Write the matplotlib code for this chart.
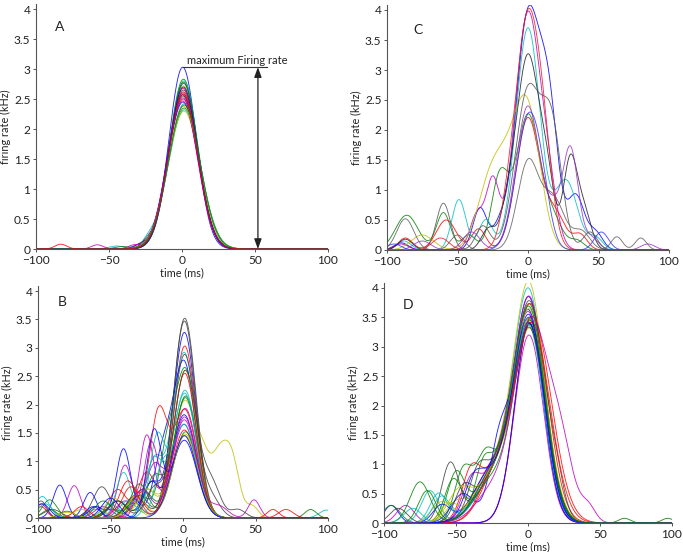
import numpy as np
import matplotlib
matplotlib.use("Agg")
import matplotlib.pyplot as plt

# ---------------- data ----------------
time_ticks = [-100, -50, 0, 50, 100]
rate_ticks = [0, 0.5, 1, 1.5, 2, 2.5, 3, 3.5, 4]
rate_tick_labels = ['0', '0.5', '1', '1.5', '2', '2.5', '3', '3.5', '4']
panel_letters = ['A', 'B', 'C', 'D']
x_label = 'time (ms)'
y_label = 'firing rate (kHz)'
annotation_text = 'maximum Firing rate'
A_arrow_time = 52

# Panel A: main peak of every trial (center ms, height kHz, width ms)
A_peak_centers = [0.5, 1.0, 0.8, 1.2, 0.6, 0.9, 1.1, 0.4, 1.5, 0.7, 1.6, 0.5,
                  1.3, 0.9, 0.6, 1.0, 0.8, 1.4, 0.3, 1.2, 0.7, 0.9, 1.5, 0.8]
A_peak_heights = [3.03, 2.83, 2.68, 2.80, 2.60, 2.72, 2.76, 2.57, 2.35, 2.50, 2.32, 2.52,
                  2.30, 2.65, 2.45, 2.78, 2.62, 2.42, 2.47, 2.38, 2.55, 2.70, 2.40, 2.58]
A_peak_widths = [9.4, 9.8, 10.0, 9.8, 10.2, 9.9, 9.8, 10.3, 11.0, 10.2, 11.0, 10.2,
                 11.0, 10.0, 10.5, 9.8, 10.1, 10.6, 10.4, 10.8, 10.2, 9.9, 10.8, 10.1]
# secondary bumps: (trial, center, height, width)
A_extra_bumps = [(23, -83, 0.08, 4), (4, -58, 0.07, 4), (3, -45, 0.05, 5), (8, -41, 0.04, 5),
                 (11, -33, 0.06, 4), (7, -30, 0.05, 4), (2, -28, 0.07, 4), (13, -24, 0.09, 4),
                 (10, -23, 0.09, 4)]

# Panel B
B_peak_centers = [1.0, 1.5, 1.2, 0.8, 1.5, 1.0, 1.2, 0.6, 1.8, 1.0, 1.4, 0.9, 1.6, 1.0, 0.8,
                  1.7, 1.3, 1.1, 0.7, 1.5, 1.1, 0.9, 1.8, 1.2, 0.8, 1.0, 1.4, 1.6, 0.9]
B_peak_heights = [3.27, 2.63, 3.03, 2.92, 1.93, 2.05, 3.52, 2.75, 2.15, 1.55, 2.25, 1.73, 1.48,
                  3.47, 1.82, 2.12, 1.90, 2.20, 1.65, 2.60, 2.88, 1.37, 1.52, 2.55, 1.65, 1.78,
                  1.45, 2.60, 1.45]
B_peak_widths = [7.8, 8.0, 7.8, 7.9, 8.3, 8.0, 7.9, 8.0, 8.2, 8.5, 8.2, 8.4, 8.6, 7.8, 8.4,
                 8.2, 8.2, 8.2, 8.4, 8.0, 7.9, 8.6, 8.5, 8.0, 8.4, 8.3, 8.6, 8.0, 8.5]
B_extra_bumps = [(0, -85, 0.58, 4.5), (0, -45, 0.30, 6), (0, -22, 0.60, 6),
                 (1, -92, 0.32, 5), (1, -30, 0.40, 7), (1, -12, 0.80, 5),
                 (2, -45, 0.50, 6), (2, -25, 0.80, 6),
                 (3, -97, 0.38, 5), (3, -60, 0.15, 6), (3, -20, 1.00, 6),
                 (4, -75, 0.57, 4.5), (4, -40, 0.93, 5), (4, -20, 0.90, 6),
                 (5, -60, 0.20, 6), (5, -25, 0.50, 7), (5, 14, 0.70, 5), (5, 24, 0.85, 5),
                 (5, 33, 1.10, 5.5), (5, 48, 0.20, 4),
                 (6, -56, 0.55, 6), (6, -30, 0.30, 6),
                 (7, -64, 0.45, 4.5), (7, -35, 0.35, 5), (7, -15, 0.90, 6),
                 (8, -50, 0.15, 6), (8, -28, 0.50, 7), (8, 88, 0.15, 4),
                 (9, -98, 0.20, 4), (9, -33, 0.40, 6), (9, 62, 0.15, 4),
                 (10, -41, 0.80, 5), (10, -20, 1.00, 6),
                 (11, -98, 0.25, 4), (11, -25, 1.45, 5), (11, -55, 0.20, 6),
                 (12, -70, 0.15, 6), (12, -32, 0.40, 6),
                 (13, -30, 0.40, 6), (13, -90, 0.15, 6),
                 (14, -41, 1.22, 5), (14, -60, 0.20, 5), (14, -22, 0.60, 5),
                 (15, -45, 0.30, 7), (15, -20, 0.70, 6), (15, -80, 0.12, 5),
                 (16, -38, 0.65, 6), (16, -17, 1.80, 6),
                 (17, -18, 1.35, 5), (17, -50, 0.25, 6), (17, -95, 0.25, 5),
                 (18, -22, 1.30, 5), (18, -40, 0.30, 6),
                 (19, -48, 0.35, 6), (19, -25, 0.50, 6),
                 (20, -35, 0.30, 6), (20, -98, 0.30, 4), (20, 20, 0.30, 6),
                 (21, -20, 1.50, 5), (21, -62, 0.20, 5),
                 (22, -55, 0.30, 6), (22, -30, 0.60, 6), (22, -92, 0.15, 5),
                 (23, -36, 0.55, 6), (23, 71, 0.15, 5), (23, -70, 0.20, 5),
                 (24, -38, 0.30, 6), (24, 99, 0.14, 5), (24, -15, 0.70, 5),
                 (25, -28, 0.50, 6), (25, 49, 0.32, 4), (25, 25, 0.20, 6),
                 (26, -35, 0.30, 5), (26, -80, 0.10, 6),
                 (27, 20, 0.55, 6), (27, 38, 0.15, 5), (27, -45, 0.30, 6), (27, -20, 0.50, 6),
                 (28, -50, 0.35, 6), (28, -97, 0.25, 5)]

# Panel C
C_peak_centers = [0, 0, 0, 0, 0, 0, 0, 0, 0, 0, 0, 0]
C_peak_heights = [3.90, 2.25, 2.20, 3.70, 3.95, 2.15, 3.25, 2.40, 2.65, 1.45, 3.90, 2.15]
C_peak_widths = [8.5, 8.5, 8.5, 8.5, 9.0, 9.0, 8.5, 8.5, 9.0, 7.5, 9.0, 8.5]
C_extra_bumps = [(0, 15, 2.10, 6.5), (0, 34, 0.90, 6), (0, 48, 0.28, 5), (0, -34, 0.70, 5),
                 (0, -20, 0.35, 5), (0, -90, 0.12, 5),
                 (1, -20, 1.20, 6), (1, -60, 0.62, 5), (1, -86, 0.58, 8), (1, -42, 0.25, 5),
                 (1, 18, 0.45, 7), (1, 35, 0.15, 5),
                 (2, -58, 0.50, 7), (2, -35, 0.35, 5), (2, 20, 0.55, 7), (2, 37, 0.25, 5),
                 (2, -87, 0.20, 5),
                 (3, 27, 1.15, 8), (3, -49, 0.84, 5), (3, -30, 0.50, 5), (3, -88, 0.15, 5),
                 (3, 48, 0.20, 5),
                 (4, 15, 0.70, 6), (4, -25, 1.10, 4.5), (4, -36, 0.60, 5), (4, -90, 0.10, 5),
                 (5, -15, 1.10, 10), (5, -28, 0.85, 9), (5, -75, 0.25, 8),
                 (6, 14, 0.80, 5), (6, 30, 1.50, 5), (6, 40, 0.60, 5), (6, -28, 0.35, 5),
                 (6, -15, 0.40, 5), (6, -87, 0.18, 5),
                 (7, 30, 1.70, 5.5), (7, 18, 0.50, 5), (7, -40, 0.30, 6), (7, -75, 0.15, 6),
                 (7, 45, 0.20, 5), (7, 85, 0.10, 5),
                 (8, 17, 1.90, 7), (8, 44, 0.30, 5), (8, -60, 0.78, 5), (8, -32, 0.40, 5),
                 (9, 18, 0.85, 8), (9, 38, 0.30, 6), (9, 63, 0.22, 4), (9, 80, 0.20, 4),
                 (9, -87, 0.52, 6), (9, -50, 0.25, 5),
                 (10, 12, 0.80, 6), (10, -62, 0.20, 6), (10, -15, 0.30, 5),
                 (11, 10, 0.50, 6), (11, -95, 0.10, 5), (11, 52, 0.30, 5)]
C_colors = ['#0000ff', '#008000', '#ff0000', '#00bfbf', '#bf00bf', '#bfbf00',
            '#202020', '#9933cc', '#555555', '#606060', '#e02020', '#3333ff']

# Panel D
D_peak_centers = [1.0, 1.5, 2.0, 0.8, 1.2, 1.0, 1.5, 0.7, 1.8, 1.0, 1.3, 0.9, 1.6, 1.1, 0.8,
                  1.7, 3.0, 1.1, 0.7, 1.5, 1.1, 0.9, 1.8, 2.5, 0.8, 2.0, 1.4, 1.6, 0.9, 1.2]
D_peak_heights = [3.68, 3.55, 3.62, 3.80, 3.72, 3.92, 3.62, 3.48, 3.25, 3.40, 3.38, 3.42,
                  3.20, 3.32, 3.40, 3.22, 3.50, 3.30, 3.20, 3.36, 3.25, 3.40, 3.35, 3.40,
                  3.18, 3.30, 3.48, 3.15, 3.42, 3.52]
D_peak_widths = [10.5, 10.8, 11.5, 10.4, 10.8, 10.6, 11.0, 10.5, 11.0, 10.0, 10.8, 11.2,
                 11.0, 11.0, 10.5, 11.0, 13.0, 10.8, 10.0, 11.2, 11.0, 10.0, 10.8, 12.5,
                 10.6, 11.0, 11.2, 11.0, 10.6, 11.0]
D_extra_bumps = [(0, -22, 0.80, 13), (0, -95, 0.30, 5),
                 (1, -22, 0.90, 13), (1, -50, 0.80, 6), (1, -95, 0.30, 6),
                 (2, -24, 0.80, 13), (2, -40, 0.60, 6),
                 (3, -22, 0.90, 13), (3, -68, 0.55, 6),
                 (4, -24, 0.90, 13), (4, -85, 0.30, 6),
                 (5, -22, 0.90, 13), (5, -50, 0.30, 7),
                 (6, -22, 0.80, 13), (6, -54, 1.00, 6), (6, 20, 0.35, 5),
                 (7, -24, 0.90, 13), (7, -60, 0.30, 6),
                 (8, -22, 0.70, 13), (8, -45, 0.80, 6), (8, -30, 0.60, 6),
                 (10, -24, 0.80, 13), (10, -62, 0.50, 6),
                 (11, -22, 0.80, 13), (11, -40, 0.50, 6),
                 (12, -24, 0.80, 13), (12, -60, 0.35, 7),
                 (13, -22, 0.80, 13), (13, -35, 0.50, 6),
                 (14, -20, 1.20, 7), (14, -45, 0.50, 8),
                 (15, -22, 0.80, 13), (15, -52, 0.70, 6),
                 (16, -25, 0.60, 10),
                 (17, -22, 0.80, 13), (17, -60, 0.45, 6),
                 (19, -24, 0.80, 13), (19, -55, 0.30, 6),
                 (20, -22, 0.80, 13), (20, -45, 0.50, 6),
                 (22, -24, 0.70, 13), (22, -75, 0.70, 7), (22, 67, 0.08, 4), (22, 97, 0.08, 4),
                 (23, -25, 0.70, 10),
                 (24, -22, 0.90, 13), (24, -80, 0.25, 6),
                 (25, 22, 1.30, 9), (25, 42, 0.25, 5), (25, -22, 0.60, 13),
                 (26, -22, 0.80, 13), (26, -48, 0.50, 8),
                 (27, -22, 0.90, 13), (27, -90, 0.25, 6),
                 (28, -24, 0.80, 13), (28, -38, 0.40, 6),
                 (29, -22, 0.80, 13), (29, -70, 0.55, 6), (29, -31, 0.45, 5)]

# ---------------- style ----------------
plt.rcParams['font.family'] = ['Lato', 'DejaVu Sans']
line_cycle = ['#0000ff', '#008000', '#ff0000', '#00bfbf', '#bf00bf', '#bfbf00', '#404040']
axis_color = '#555555'
text_color = '#222222'

t = np.linspace(-100, 100, 1601)


def build_curves(centers, heights, widths, extras):
    curves = []
    for c, h, w in zip(centers, heights, widths):
        curves.append(h * np.exp(-0.5 * ((t - c) / w) ** 2))
    for i, c, h, w in extras:
        curves[i] = curves[i] + h * np.exp(-0.5 * ((t - c) / w) ** 2)
    return curves


panels = {
    'A': build_curves(A_peak_centers, A_peak_heights, A_peak_widths, A_extra_bumps),
    'B': build_curves(B_peak_centers, B_peak_heights, B_peak_widths, B_extra_bumps),
    'C': build_curves(C_peak_centers, C_peak_heights, C_peak_widths, C_extra_bumps),
    'D': build_curves(D_peak_centers, D_peak_heights, D_peak_widths, D_extra_bumps),
}

W, H = 683, 552
fig = plt.figure(figsize=(W / 100, H / 100), dpi=100)
ylim_top = 4.08
# axes rectangles in pixels: left, bottom(y from top), width, px per kHz
rects = {
    'A': (36, 249, 292, 60.0),
    'C': (387, 250, 282, 60.0),
    'B': (38, 518, 290, 56.75),
    'D': (384, 523, 288, 58.75),
}
letter_pos = {'A': (-84, 3.7), 'C': (-78, 3.67), 'B': (-83, 3.8), 'D': (-83, 3.71)}

for name in panel_letters:
    l, b, w, ppu = rects[name]
    hpx = ylim_top * ppu
    ax = fig.add_axes([l / W, (H - b) / H, w / W, hpx / H])
    curves = panels[name]
    for k, y in enumerate(curves):
        col = C_colors[k] if name == 'C' else line_cycle[k % len(line_cycle)]
        ax.plot(t, y, color=col, lw=0.65, alpha=0.85, solid_capstyle='round')
    ax.set_xlim(-100, 100)
    ax.set_ylim(0, ylim_top)
    ax.set_xticks(time_ticks)
    ax.set_yticks(rate_ticks)
    ax.set_yticklabels(rate_tick_labels)
    for s in ['top', 'right']:
        ax.spines[s].set_visible(False)
    for s in ['left', 'bottom']:
        ax.spines[s].set_color(axis_color)
        ax.spines[s].set_linewidth(0.8)
    ax.tick_params(direction='out', length=2.5, width=0.7, color=axis_color,
                   labelsize=8.6, labelcolor=text_color, pad=1.5)
    ax.set_xlabel(x_label, fontsize=7.8, color=text_color, labelpad=1.0)
    ax.set_ylabel(y_label, fontsize=7.8, color=text_color, labelpad=2)
    ax.text(letter_pos[name][0], letter_pos[name][1], name, fontsize=10,
            color=text_color, ha='center', va='center')
    ax.patch.set_alpha(0)

    if name == 'A':
        peaks = [y.max() for y in curves]
        top = int(np.argmax(peaks))
        peak_val = peaks[top]
        peak_t = t[np.argmax(curves[top])]
        ax.plot([peak_t, A_arrow_time + 6.5], [peak_val, peak_val], color='#333333', lw=0.8)
        ax.annotate('', xy=(A_arrow_time, 0), xytext=(A_arrow_time, peak_val),
                    arrowprops=dict(arrowstyle='<|-|>,head_length=0.6,head_width=0.22',
                                    color='#222222', lw=0.9, shrinkA=0, shrinkB=0))
        ax.text(A_arrow_time + 20, peak_val + 0.11, annotation_text, fontsize=8,
                color=text_color, ha='right', va='center')

fig.savefig('out.png', dpi=100)
